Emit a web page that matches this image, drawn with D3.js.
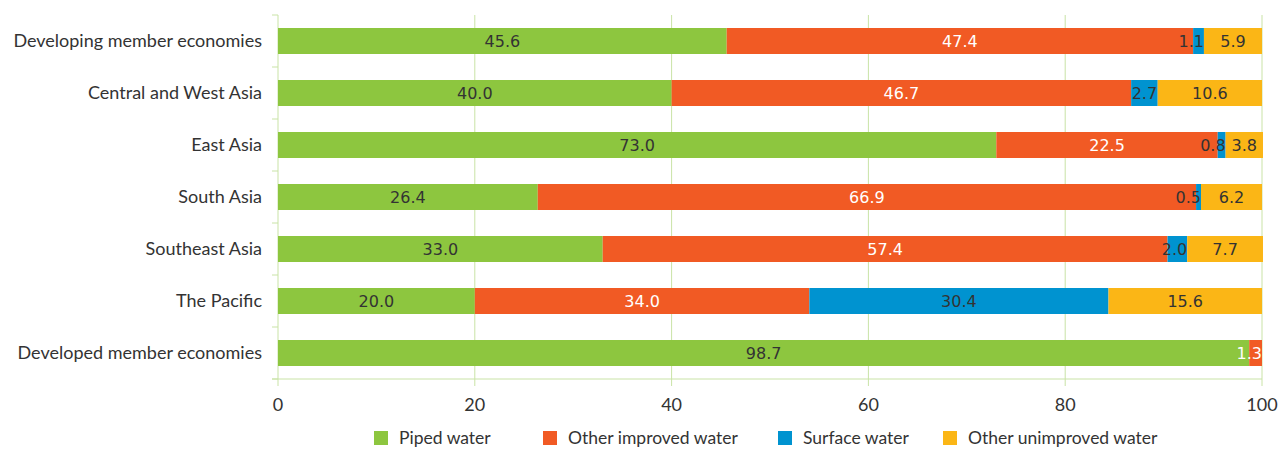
<!DOCTYPE html>
<html>
<head>
<meta charset="utf-8">
<script src="https://cdn.jsdelivr.net/npm/d3@7"></script>
<style>
  body { margin: 0; background: #fff; }
  svg text { font-family: Lato, "Open Sans", sans-serif; }
</style>
</head>
<body>
<svg width="1278" height="449"></svg>
<script>
const categories = [
    "Developing member economies",
    "Central and West Asia",
    "East Asia",
    "South Asia",
    "Southeast Asia",
    "The Pacific",
    "Developed member economies"
];
const seriesNames = ["Piped water", "Other improved water", "Surface water", "Other unimproved water"];
const piped = [45.6, 40.0, 73.0, 26.4, 33.0, 20.0, 98.7];
const otherImproved = [47.4, 46.7, 22.5, 66.9, 57.4, 34.0, 1.3];
const surface = [1.1, 2.7, 0.8, 0.5, 2.0, 30.4, 0];
const otherUnimproved = [5.9, 10.6, 3.8, 6.2, 7.7, 15.6, 0];
const xTicks = [0, 20, 40, 60, 80, 100];

const colors = ["#8dc63f", "#f15a24", "#0093d0", "#fbb616"];
const labelColors = ["#333333", "#ffffff", "#333333", "#333333"];

const svg = d3.select("svg");
const margin = {top: 15, right: 16, bottom: 70, left: 278};
const width = 1278 - margin.left - margin.right,
      height = 449 - margin.top - margin.bottom;

const rows = categories.map((c, i) => ({
    name: c,
    values: [piped[i], otherImproved[i], surface[i], otherUnimproved[i]]
}));

const x = d3.scaleLinear().domain([0, 100]).range([0, width]);
const y = d3.scaleBand().domain(categories).range([0, height]).paddingInner(0.5).paddingOuter(0.25);

const g = svg.append("g").attr("transform", `translate(${margin.left},${margin.top})`);

// gridlines
g.selectAll(".grid").data(xTicks.slice(1)).enter().append("line")
    .attr("x1", d => x(d)).attr("x2", d => x(d))
    .attr("y1", 0).attr("y2", height + 7)
    .attr("stroke", "#c9e3a6").attr("stroke-width", 1);

// left axis line + ticks on band boundaries
g.append("line").attr("x1", 0).attr("x2", 0).attr("y1", 0).attr("y2", height + 7)
    .attr("stroke", "#c9e3a6");
d3.range(categories.length + 1).forEach(i => {
    g.append("line").attr("x1", -6).attr("x2", 0)
        .attr("y1", i * height / categories.length).attr("y2", i * height / categories.length)
        .attr("stroke", "#c9e3a6");
});

// bottom axis
g.append("line").attr("x1", -6).attr("x2", width).attr("y1", height).attr("y2", height)
    .attr("stroke", "#c9e3a6");
g.selectAll(".xt").data(xTicks).enter().append("text")
    .attr("x", d => x(d)).attr("y", height + 32)
    .attr("text-anchor", "middle").attr("font-size", 18).attr("fill", "#333")
    .text(d => d);

// category labels
g.selectAll(".cat").data(categories).enter().append("text")
    .attr("x", -16).attr("y", d => y(d) + y.bandwidth() / 2)
    .attr("dy", "0.35em").attr("text-anchor", "end")
    .attr("font-size", 18).attr("fill", "#333")
    .text(d => d);

// stacked bars
const labels = [];
rows.forEach(r => {
    let acc = 0;
    r.values.forEach((v, k) => {
        if (v <= 0) return;
        const x0 = x(acc), x1 = x(acc + v);
        g.append("rect")
            .attr("x", x0).attr("y", y(r.name))
            .attr("width", x1 - x0).attr("height", y.bandwidth())
            .attr("fill", colors[k]);
        labels.push({x0: x0, x1: x1, y: y(r.name) + y.bandwidth() / 2, v: v, k: k});
        acc += v;
    });
});

// labels on top of all bars; narrow segments get the label ending at the segment end
labels.forEach(l => {
    const t = g.append("text")
        .attr("x", (l.x0 + l.x1) / 2).attr("y", l.y)
        .attr("dy", "0.35em").attr("text-anchor", "middle")
        .attr("fill", labelColors[l.k])
        .style("font-family", "'DejaVu Sans', sans-serif").style("font-size", "16px")
        .text(l.v.toFixed(1));
    const w = t.node().getComputedTextLength();
    if (w > l.x1 - l.x0) t.attr("text-anchor", "end").attr("x", l.x1);
});

// legend
const legendX = [374, 543, 778, 943];
const legend = svg.append("g");
seriesNames.forEach((s, k) => {
    legend.append("rect").attr("x", legendX[k]).attr("y", 431).attr("width", 14).attr("height", 14)
        .attr("fill", colors[k]);
    legend.append("text").attr("x", legendX[k] + 25).attr("y", 438).attr("dy", "0.35em")
        .attr("font-size", 17.5).attr("fill", "#333").text(s);
});
</script>
</body>
</html>
